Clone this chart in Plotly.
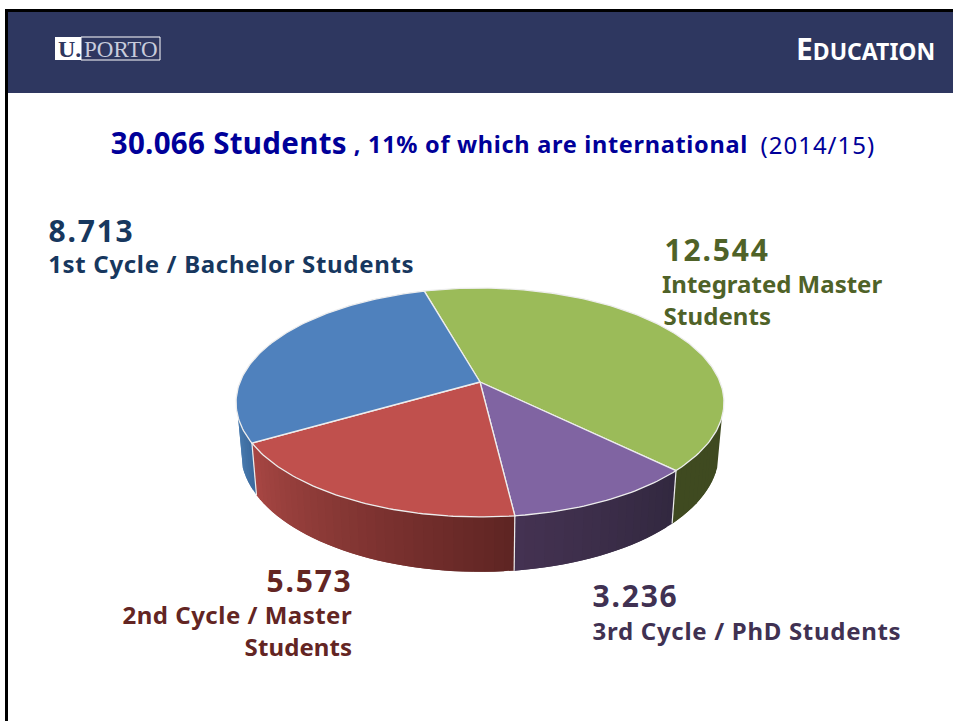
import json
import math
import plotly.graph_objects as go

# ---- data ----
categories = ["Integrated Master Students", "3rd Cycle / PhD Students",
              "2nd Cycle / Master Students", "1st Cycle / Bachelor Students"]
students = [12544, 3236, 5573, 8713]
value_labels = ["12.544", "3.236", "5.573", "8.713"]
top_colors = ["#9BBB59", "#8064A2", "#C0504D", "#4F81BD"]
side_left = ["#3F4A20", "#443252", "#A84743", "#4A7BAF"]
side_right = ["#3F4A20", "#32283F", "#5E2423", "#3B6A9D"]
text_colors = ["#4F6228", "#403152", "#632523", "#17375E"]

# ---- projection of the tilted pie ----
W, H = 953, 721
CX, CY, A, B, P = 480, 382, 240, 110.8, 0.179
START = 344.2
VISIBLE = (107.4, 252.6)
FONT = "Noto Sans"
NAVY = "#2E3760"
EDGE = "#EDEDED"


def top(t):
    r = math.radians(t)
    u, v = math.sin(r), -math.cos(r)
    d = 1 - P * v
    return CX + A * u / d, CY + B * v / d


def bottom(t):
    x, y = top(t)
    return CX + 0.98 * (x - CX), 431.5 + 1.04 * (y - CY)


def arc(fn, a, b, step=1.0):
    n = max(2, int(abs(b - a) / step) + 1)
    return [fn(a + (b - a) * i / (n - 1)) for i in range(n)]


def hex_mix(c1, c2, f):
    p = [int(c1[i:i + 2], 16) for i in (1, 3, 5)]
    q = [int(c2[i:i + 2], 16) for i in (1, 3, 5)]
    return "rgb(%d,%d,%d)" % tuple(round(a + (b - a) * f) for a, b in zip(p, q))


total = sum(students)
bounds = [START]
for s in students:
    bounds.append(bounds[-1] + s / total * 360)

fig = go.Figure()


def poly(pts, fill, line=None, width=0, name=None):
    xs = [p[0] for p in pts]
    ys = [p[1] for p in pts]
    fig.add_trace(go.Scatter(
        x=xs, y=ys, mode="lines", fill="toself", fillcolor=fill,
        line=dict(color=line or fill, width=width), hoverinfo="skip" if name is None else "text",
        text=name, showlegend=False))


# side wall, drawn as overlapping gradient strips
for i, cat in enumerate(categories):
    a, b = bounds[i], bounds[i + 1]
    for off in (0, 360, -360):
        lo = max(a, VISIBLE[0] + off)
        hi = min(b, VISIBLE[1] + off)
        if hi <= lo:
            continue
        n = max(1, int((hi - lo) / 2.0))
        for k in range(n):
            t0 = lo + (hi - lo) * k / n
            t1 = min(hi, lo + (hi - lo) * (k + 2) / n)
            col = hex_mix(side_left[i], side_right[i], 1 - (k + .5) / n)
            pts = arc(top, t0, t1, .5) + arc(bottom, t1, t0, .5)
            poly(pts + pts[:1], col, None, 0)

# vertical seams on the wall
for t in bounds[1:4]:
    tm = (t % 360)
    if VISIBLE[0] <= tm <= VISIBLE[1]:
        p, q = top(tm), bottom(tm)
        fig.add_trace(go.Scatter(x=[p[0], q[0]], y=[p[1], q[1]], mode="lines",
                                 line=dict(color=EDGE, width=1.2), hoverinfo="skip", showlegend=False))

# top face
for i, cat in enumerate(categories):
    pts = [(CX, CY)] + arc(top, bounds[i], bounds[i + 1]) + [(CX, CY)]
    poly(pts, top_colors[i], EDGE, 1.3, "%s: %s" % (cat, value_labels[i]))


spacing = {}


def label(x, y, text, size, color, ls=0, bold=True, font=FONT, key=None):
    fig.add_annotation(x=x, y=y, xref="x", yref="y", text="<b>%s</b>" % text if bold else text,
                       showarrow=False, xanchor="center", yanchor="middle",
                       font=dict(family=font, size=size, color=color), borderpad=0, borderwidth=0)
    spacing[key or text] = ls


# headline
label(229, 142, "30.066 Students", 29.5, "#000099", .3)
label(551, 144, ", 11% of which are international", 23.5, "#000099", .7)
label(817.5, 144, "(2014/15)", 24, "#000099", 1.0, bold=False)

# slice labels
label(91, 230, value_labels[3], 30, text_colors[3], 1.8)
label(231, 263, "1st Cycle / Bachelor Students", 24, text_colors[3], .68)
label(717, 249, value_labels[0], 30, text_colors[0], 1.8)
label(772, 283, "Integrated Master", 24, text_colors[0], 0)
label(717, 315, "Students", 24, text_colors[0], .1)
label(309.5, 580, value_labels[2], 30, text_colors[2], 1.8)
label(237.5, 614, "2nd Cycle / Master", 24, text_colors[2], .5)
label(298.5, 646, "Students", 24, text_colors[2], .1)
label(635.5, 595, value_labels[1], 30, text_colors[1], 1.8)
label(747, 630, "3rd Cycle / PhD Students", 24, text_colors[1], .7)

# slide header
label(865.5, 48, 'E<span style="font-size:23px">DUCATION</span>', 30, "#FFFFFF", 0, key="EDUCATION")
label(69, 49, "U.", 24, NAVY, 0, font="Liberation Serif")
label(120.5, 49, "PORTO", 23, "#C8CCDC", 0, bold=False, font="Liberation Serif")

shapes = [
    dict(type="rect", x0=5, x1=953, y0=9, y1=721, fillcolor="#000000", line_width=0, layer="below"),
    dict(type="rect", x0=8, x1=953, y0=12, y1=721, fillcolor="#FFFFFF", line_width=0, layer="below"),
    dict(type="rect", x0=8, x1=953, y0=12, y1=93, fillcolor=NAVY, line_width=0, layer="below"),
    dict(type="rect", x0=55, x1=81, y0=37, y1=60, fillcolor="#FFFFFF", line_width=0, layer="below"),
    dict(type="rect", x0=81, x1=160, y0=37, y1=60, fillcolor=NAVY,
         line=dict(color="#FFFFFF", width=1), layer="below"),
]

fig.update_layout(
    width=W, height=H, margin=dict(l=0, r=0, t=0, b=0), autosize=False,
    paper_bgcolor="#FFFFFF", plot_bgcolor="rgba(0,0,0,0)", showlegend=False, shapes=shapes,
    xaxis=dict(range=[0, W], visible=False, fixedrange=True),
    yaxis=dict(range=[H, 0], visible=False, fixedrange=True),
)
post = """
document.documentElement.style.overflow='hidden';
document.body.style.margin='0';
var ls=%s;
document.querySelectorAll('.annotation-text').forEach(function(t){
  var v=ls[t.textContent]; if(v){t.style.letterSpacing=v+'px';}
});
""" % json.dumps(spacing)
fig.write_html("out.html", config={"displayModeBar": False}, post_script=post)
